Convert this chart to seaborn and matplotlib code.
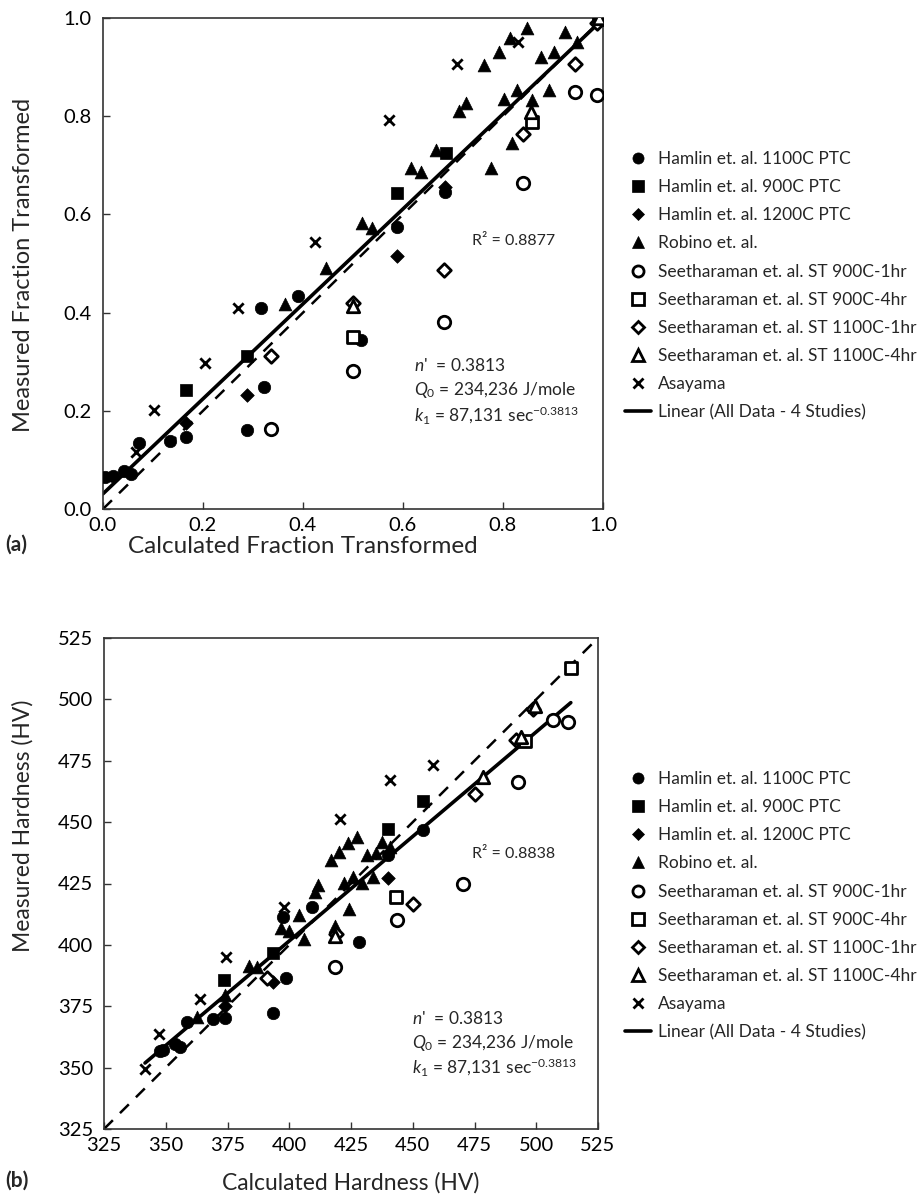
import numpy as np
import pandas as pd
import matplotlib
matplotlib.use("Agg")
import matplotlib.pyplot as plt
from matplotlib.lines import Line2D
import seaborn as sns

# ---------------- Data: panel (a) fraction transformed ----------------
a_h1100_x = [0.005, 0.02, 0.042, 0.056, 0.072, 0.134, 0.166, 0.288, 0.316, 0.322, 0.39, 0.516, 0.588, 0.684]
a_h1100_y = [0.065, 0.068, 0.078, 0.072, 0.134, 0.139, 0.146, 0.160, 0.409, 0.248, 0.434, 0.344, 0.575, 0.646]
a_h900_x = [0.166, 0.288, 0.588, 0.686]
a_h900_y = [0.242, 0.312, 0.644, 0.725]
a_h1200_x = [0.166, 0.288, 0.588, 0.684]
a_h1200_y = [0.175, 0.232, 0.515, 0.656]
a_rob_x = [0.364, 0.446, 0.518, 0.538, 0.616, 0.636, 0.666, 0.712, 0.726, 0.762, 0.776,
           0.792, 0.802, 0.814, 0.818, 0.828, 0.848, 0.858, 0.876, 0.892, 0.902, 0.924, 0.948]
a_rob_y = [0.417, 0.491, 0.582, 0.573, 0.694, 0.686, 0.731, 0.810, 0.827, 0.905, 0.694,
           0.931, 0.835, 0.959, 0.746, 0.853, 0.980, 0.833, 0.921, 0.853, 0.931, 0.972, 0.951]
a_s9001_x = [0.336, 0.50, 0.682, 0.84, 0.944, 0.988]
a_s9001_y = [0.163, 0.282, 0.380, 0.664, 0.849, 0.843]
a_s9004_x = [0.50, 0.858, 0.992]
a_s9004_y = [0.350, 0.788, 0.998]
a_s11001_x = [0.336, 0.50, 0.682, 0.84, 0.944, 0.988]
a_s11001_y = [0.312, 0.420, 0.487, 0.764, 0.907, 0.990]
a_s11004_x = [0.50, 0.856, 0.992]
a_s11004_y = [0.414, 0.808, 1.0]
a_asa_x = [0.066, 0.102, 0.204, 0.27, 0.424, 0.572, 0.708, 0.83]
a_asa_y = [0.116, 0.202, 0.298, 0.409, 0.544, 0.792, 0.906, 0.951]
a_trend = [0.967, 0.031]   # slope, intercept
a_r2 = "R² = 0.8877"

# ---------------- Data: panel (b) hardness ----------------
b_h1100_x = [347.7, 349.0, 353.7, 355.8, 358.6, 369.1, 374.0, 393.4, 398.7, 397.5, 409.2, 428.2, 440.0, 454.2]
b_h1100_y = [356.8, 357.2, 359.7, 358.4, 368.6, 369.9, 370.3, 372.3, 386.6, 411.5, 415.5, 401.3, 436.7, 446.9]
b_h900_x = [373.6, 393.4, 440.0, 454.2]
b_h900_y = [385.8, 396.8, 447.3, 458.8]
b_h1200_x = [374.0, 393.4, 440.0]
b_h1200_y = [375.2, 385.0, 427.3]
b_rob_x = [362.7, 374.0, 383.7, 387.0, 396.7, 399.9, 404.0, 406.0, 410.4, 411.7, 416.9, 418.5, 420.1,
           423.8, 427.4, 431.5, 435.0, 437.6, 440.8, 422.2, 425.8, 429.5, 433.9, 424.2]
b_rob_y = [370.7, 379.6, 391.5, 391.1, 407.0, 405.7, 412.3, 402.5, 421.6, 424.5, 434.7, 407.5, 438.0,
           441.6, 444.0, 436.7, 437.6, 442.0, 440.0, 425.3, 427.8, 425.3, 427.8, 414.7]
b_s9001_x = [418.5, 443.6, 470.4, 492.6, 506.8, 512.9]
b_s9001_y = [391.1, 410.2, 424.9, 466.5, 491.4, 490.6]
b_s9004_x = [443.2, 495.5, 514.1]
b_s9004_y = [419.6, 483.2, 512.6]
b_s11001_x = [391.0, 419.0, 450.1, 475.2, 491.8, 498.7]
b_s11001_y = [386.6, 404.5, 416.8, 461.6, 483.6, 495.9]
b_s11004_x = [418.5, 478.5, 494.0, 499.5]
b_s11004_y = [403.5, 468.5, 484.5, 497.5]
b_asa_x = [341.6, 347.3, 363.9, 374.4, 397.9, 420.5, 440.8, 458.2]
b_asa_y = [349.5, 363.7, 378.0, 395.1, 415.5, 451.4, 467.3, 473.4]
b_trend = [0.8515, 61.0]   # slope, intercept
b_trend_range = [341.6, 514.0]
b_r2 = "R² = 0.8838"

study_names = ["Hamlin et. al. 1100C PTC", "Hamlin et. al. 900C PTC", "Hamlin et. al. 1200C PTC",
               "Robino et. al.", "Seetharaman et. al. ST 900C-1hr", "Seetharaman et. al. ST 900C-4hr",
               "Seetharaman et. al. ST 1100C-1hr", "Seetharaman et. al. ST 1100C-4hr", "Asayama"]
trend_label = "Linear (All Data - 4 Studies)"
params_text = ["$\\mathit{n}$'  = 0.3813", "$\\mathit{Q}_{0}$ = 234,236 J/mole",
               "$\\mathit{k}_{1}$ = 87,131 sec$^{-0.3813}$"]

a_x_ticks = [0.0, 0.2, 0.4, 0.6, 0.8, 1.0]
b_ticks = [325, 350, 375, 400, 425, 450, 475, 500, 525]

# ---------------- Styling ----------------
sns.set_theme(style="white")
plt.rcParams["font.family"] = ["Lato", "DejaVu Sans"]
plt.rcParams["mathtext.fontset"] = "custom"
plt.rcParams["mathtext.rm"] = "Lato"
plt.rcParams["mathtext.it"] = "Lato:italic"
plt.rcParams["mathtext.bf"] = "Lato:bold"

styles = [
    dict(marker="o", fc="black", s=80),
    dict(marker="s", fc="black", s=70),
    dict(marker="D", fc="black", s=48),
    dict(marker="^", fc="black", s=85),
    dict(marker="o", fc="white", s=80),
    dict(marker="s", fc="white", s=75),
    dict(marker="D", fc="white", s=48),
    dict(marker="^", fc="white", s=80),
    dict(marker="x", fc="black", s=55),
]


def make_df(xs, ys):
    rows = []
    for name, x, y in zip(study_names, xs, ys):
        for xi, yi in zip(x, y):
            rows.append((name, xi, yi))
    return pd.DataFrame(rows, columns=["study", "calc", "meas"])


fig = plt.figure(figsize=(9.2, 12.01), dpi=100)
ax_a = fig.add_axes([103 / 920, 1 - 509 / 1201, 500 / 920, 491 / 1201])
ax_b = fig.add_axes([104 / 920, 1 - 1129 / 1201, 494 / 920, 491 / 1201])


def draw_panel(ax, df, lim, trend, trend_rng, r2, r2_pos, par_pos, xlabel, ylabel, ticks, fmt,
               legend_y, xl_size, yl_size, xl_coords, yl_coords):
    # reference line y = x
    ax.plot(lim, lim, color="black", lw=1.8, ls=(0, (5, 4)), zorder=1)
    handles = []
    for name, st in zip(study_names, styles):
        sub = df[df.study == name]
        if st["marker"] == "x":
            sns.scatterplot(data=sub, x="calc", y="meas", marker="x", s=st["s"],
                            color="black", linewidth=2.0, ax=ax, zorder=3, legend=False)
            h = Line2D([], [], ls="none", marker="x", ms=6.5, mew=2.0, color="black")
        else:
            sns.scatterplot(data=sub, x="calc", y="meas", marker=st["marker"], s=st["s"],
                            color="black", facecolor=st["fc"], edgecolor="black",
                            linewidth=2.0 if st["fc"] == "white" else 0.5,
                            ax=ax, zorder=3, legend=False)
            ms = 8 if st["marker"] != "D" else 6.5
            h = Line2D([], [], ls="none", marker=st["marker"], ms=ms, mfc=st["fc"], mec="black",
                       mew=2.0 if st["fc"] == "white" else 0.5)
        handles.append(h)
    xs = np.array(trend_rng)
    ax.plot(xs, trend[0] * xs + trend[1], color="black", lw=2.6, zorder=2)
    handles.append(Line2D([], [], color="black", lw=2.6))

    ax.set_xlim(lim)
    ax.set_ylim(lim)
    ax.set_xticks(ticks)
    ax.set_yticks(ticks)
    ax.set_xticklabels([fmt.format(t) for t in ticks])
    ax.set_yticklabels([fmt.format(t) for t in ticks])
    ax.tick_params(direction="in", length=5, width=1, colors="#333333", labelcolor="black",
                   labelsize=14.5, pad=6, bottom=True, left=True)
    ax.tick_params(axis="y", pad=8)
    for sp in ax.spines.values():
        sp.set_color("#333333")
        sp.set_linewidth(1.2)
    ax.set_xlabel(xlabel, fontsize=xl_size)
    ax.set_ylabel(ylabel, fontsize=yl_size)
    ax.xaxis.set_label_coords(*xl_coords)
    ax.yaxis.set_label_coords(*yl_coords)
    ax.text(r2_pos[0], r2_pos[1], r2, transform=ax.transAxes, fontsize=11.5, va="center", ha="left")
    for i, t in enumerate(params_text):
        ax.text(par_pos[0], par_pos[1] - i * 0.05, t, transform=ax.transAxes, fontsize=12.5,
                va="center", ha="left")
    fig.legend(handles, study_names + [trend_label], loc="upper left",
               bbox_to_anchor=(625 / 920, 1 - legend_y / 1201), frameon=False, fontsize=12.5,
               handlelength=1.5, handletextpad=0.4, labelspacing=0.70, borderaxespad=0,
               borderpad=0)


df_a = make_df([a_h1100_x, a_h900_x, a_h1200_x, a_rob_x, a_s9001_x, a_s9004_x, a_s11001_x,
                a_s11004_x, a_asa_x],
               [a_h1100_y, a_h900_y, a_h1200_y, a_rob_y, a_s9001_y, a_s9004_y, a_s11001_y,
                a_s11004_y, a_asa_y])
df_b = make_df([b_h1100_x, b_h900_x, b_h1200_x, b_rob_x, b_s9001_x, b_s9004_x, b_s11001_x,
                b_s11004_x, b_asa_x],
               [b_h1100_y, b_h900_y, b_h1200_y, b_rob_y, b_s9001_y, b_s9004_y, b_s11001_y,
                b_s11004_y, b_asa_y])

draw_panel(ax_a, df_a, (0.0, 1.0), a_trend, (0.0, 1.0), a_r2, (0.738, 0.545), (0.623, 0.292),
           "Calculated Fraction Transformed", "Measured Fraction Transformed",
           a_x_ticks, "{:.1f}", 151, 17.5, 17, (0.40, -0.056), (-0.138, 0.497))
draw_panel(ax_b, df_b, (325, 525), b_trend, b_trend_range, b_r2, (0.745, 0.56), (0.623, 0.226),
           "Calculated Hardness (HV)", "Measured Hardness (HV)",
           b_ticks, "{:d}", 771, 16.5, 16.5, (0.5, -0.088), (-0.142, 0.617))

fig.text(5 / 920, 1 - 545 / 1201, "(a)", fontsize=15, fontweight="bold", va="center")
fig.text(5 / 920, 1 - 1181 / 1201, "(b)", fontsize=15, fontweight="bold", va="center")

fig.savefig("out.png", dpi=100, facecolor="white")
